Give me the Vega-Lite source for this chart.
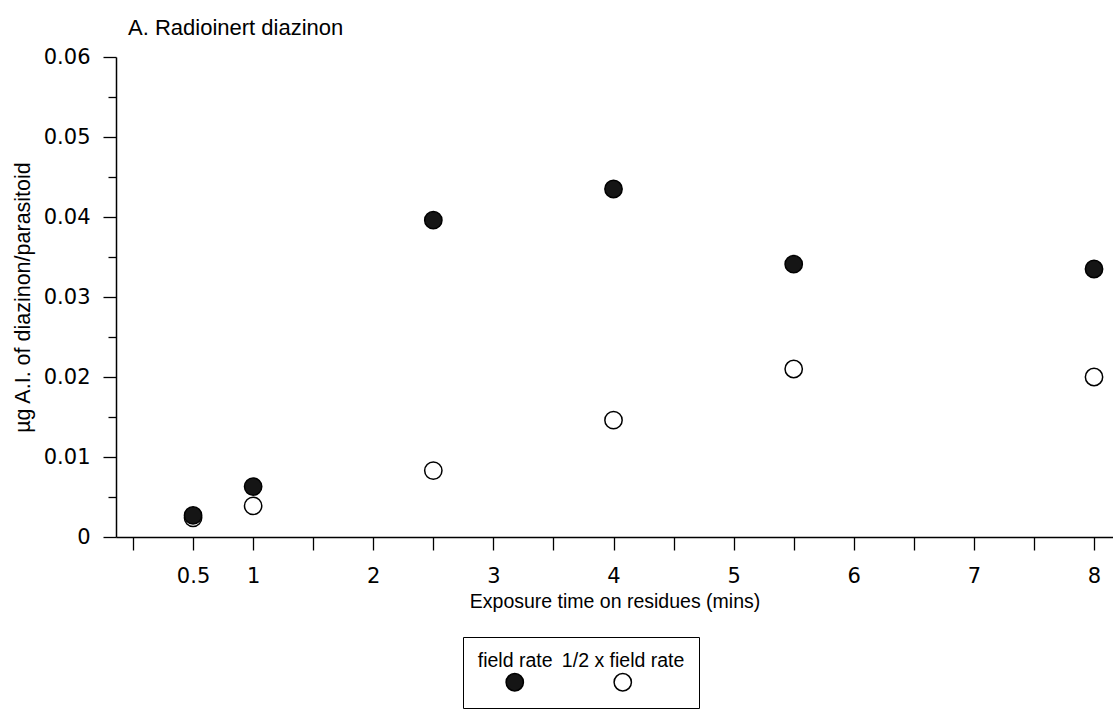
{
  "$schema": "https://vega.github.io/schema/vega-lite/v6.json",
  "width": 997,
  "height": 480,
  "autosize": {"type": "none"},
  "padding": {"left": 116, "top": 57, "right": 0, "bottom": 176},
  "background": "white",
  "title": {
    "text": "A. Radioinert diazinon",
    "anchor": "start",
    "frame": "group",
    "font": "Liberation Sans",
    "fontSize": 22,
    "fontWeight": "normal",
    "color": "black",
    "dx": 12,
    "dy": 25,
    "offset": 14,
    "baseline": "alphabetic"
  },
  "config": {
    "view": {"stroke": null},
    "axis": {
      "domainColor": "black",
      "tickColor": "black",
      "labelColor": "black",
      "titleColor": "black",
      "grid": false,
      "labelFont": "DejaVu Sans",
      "titleFont": "Liberation Sans",
      "titleFontWeight": "normal",
      "domainWidth": 1.5,
      "tickWidth": 1.3
    }
  },
  "data": {
    "values": [
      {"time": 0.5, "amount": 0.0024, "rate": "1/2 x field rate"},
      {"time": 1, "amount": 0.0039, "rate": "1/2 x field rate"},
      {"time": 2.5, "amount": 0.0083, "rate": "1/2 x field rate"},
      {"time": 4, "amount": 0.0146, "rate": "1/2 x field rate"},
      {"time": 5.5, "amount": 0.0210, "rate": "1/2 x field rate"},
      {"time": 8, "amount": 0.0200, "rate": "1/2 x field rate"},
      {"time": 0.5, "amount": 0.0027, "rate": "field rate"},
      {"time": 1, "amount": 0.0063, "rate": "field rate"},
      {"time": 2.5, "amount": 0.0396, "rate": "field rate"},
      {"time": 4, "amount": 0.0435, "rate": "field rate"},
      {"time": 5.5, "amount": 0.0341, "rate": "field rate"},
      {"time": 8, "amount": 0.0335, "rate": "field rate"}
    ]
  },
  "mark": {
    "type": "point",
    "shape": "circle",
    "filled": true,
    "stroke": "black",
    "strokeWidth": 1.5,
    "size": 300,
    "opacity": 1
  },
  "encoding": {
    "x": {
      "field": "time",
      "type": "quantitative",
      "scale": {"domain": [-0.1415, 8.158], "nice": false, "zero": false},
      "axis": {
        "title": "Exposure time on residues (mins)",
        "values": [0, 0.5, 1, 1.5, 2, 2.5, 3, 3.5, 4, 4.5, 5, 5.5, 6, 6.5, 7, 7.5, 8],
        "labelExpr": "indexof([0.5,1,2,3,4,5,6,7,8], datum.value) >= 0 ? format(datum.value, '~g') : ''",
        "tickSize": 13,
        "labelFontSize": 21,
        "labelPadding": 15,
        "labelFlush": false,
        "labelOverlap": false,
        "titleFontSize": 19.5,
        "titlePadding": 6
      }
    },
    "y": {
      "field": "amount",
      "type": "quantitative",
      "scale": {"domain": [0, 0.06], "nice": false},
      "axis": {
        "title": "µg A.I. of diazinon/parasitoid",
        "values": [0, 0.005, 0.01, 0.015, 0.02, 0.025, 0.03, 0.035, 0.04, 0.045, 0.05, 0.055, 0.06],
        "labelExpr": "round(datum.value*1000) % 10 == 0 ? format(datum.value, '~g') : ''",
        "tickSize": {"condition": {"test": "round(datum.value*1000) % 10 == 0", "value": 13}, "value": 8},
        "labelFontSize": 21,
        "labelPadding": 13,
        "labelFlush": false,
        "labelOverlap": false,
        "titleFontSize": 21.5,
        "titlePadding": 9
      }
    },
    "fill": {
      "field": "rate",
      "type": "nominal",
      "scale": {"domain": ["field rate", "1/2 x field rate"], "range": ["#151515", "#ffffff"]},
      "legend": {
        "orient": "none",
        "legendX": 347,
        "legendY": 580,
        "direction": "horizontal",
        "title": null,
        "strokeColor": "black",
        "fillColor": "white",
        "padding": 14,
        "symbolType": "M-1,2.47A1,1,0,1,0,1,2.47A1,1,0,1,0,-1,2.47Z",
        "symbolSize": 300,
        "symbolStrokeWidth": 1.5,
        "symbolStrokeColor": "black",
        "symbolOffset": 28,
        "labelFont": "Liberation Sans",
        "labelFontSize": 19.5,
        "labelColor": "black",
        "labelAlign": "center",
        "labelBaseline": "middle",
        "labelOffset": -9.4,
        "labelLimit": 300,
        "columnPadding": 8
      }
    }
  }
}
